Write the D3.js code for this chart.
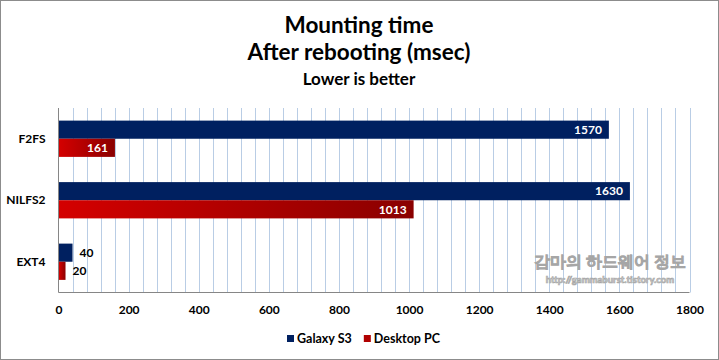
<!DOCTYPE html>
<html><head><meta charset="utf-8">
<script src="https://cdn.jsdelivr.net/npm/d3@7"></script>
<style>body{margin:0;background:#fff}svg{display:block}text{font-family:Lato,"Open Sans",sans-serif}</style>
</head><body><svg id="c" width="719" height="360"></svg>
<script>
const categories = ["F2FS", "NILFS2", "EXT4"];
const seriesNames = ["Galaxy S3", "Desktop PC"];
const galaxyS3 = [1570, 1630, 40];
const desktopPC = [161, 1013, 20];
const xTicks = [0, 200, 400, 600, 800, 1000, 1200, 1400, 1600, 1800];
const titleLines = ["Mounting time", "After rebooting (msec)"];
const subtitle = "Lower is better";

const svg = d3.select("#c");
const W = 719, H = 360;
const m = {l: 58.5, r: 29.5, t: 108, b: 67.5};
const pw = W - m.l - m.r, ph = H - m.t - m.b;

svg.append("rect").attr("x",0.5).attr("y",0.5).attr("width",W-1).attr("height",H-1)
  .attr("fill","#fff").attr("stroke","#8c8c8c").attr("stroke-width",1);

const defs = svg.append("defs");
const g1 = defs.append("linearGradient").attr("id","redg").attr("x1","0").attr("x2","1").attr("y1","0").attr("y2","0");
g1.append("stop").attr("offset","0%").attr("stop-color","#d40000");
g1.append("stop").attr("offset","100%").attr("stop-color","#8a0000");

const x = d3.scaleLinear().domain([0,1800]).range([m.l, m.l+pw]);
const y = d3.scaleBand().domain(categories).range([m.t, m.t+ph]).paddingInner(0.41).paddingOuter(0.205);
const ys = d3.scaleBand().domain(seriesNames).range([0, y.bandwidth()]);

// gridlines every 40
const grid = d3.range(40, 1801, 40);
svg.append("g").selectAll("line").data(grid).join("line")
  .attr("x1", d=>Math.round(x(d))+0.5).attr("x2", d=>Math.round(x(d))+0.5)
  .attr("y1", m.t).attr("y2", m.t+ph)
  .attr("stroke","#b9cde5").attr("stroke-width",1);

// watermark
const wm = svg.append("g").attr("fill","#e0e0e0").attr("stroke","#a6a6a6").attr("stroke-width",0.7);
wm.append("text").attr("x",610).attr("y",267).attr("text-anchor","middle")
  .attr("font-family","'Noto Sans CJK KR'").attr("font-size",15.5).attr("font-weight","bold").text("감마의 하드웨어 정보");
wm.append("text").attr("x",610).attr("y",283).attr("text-anchor","middle")
  .attr("font-family","'DejaVu Sans Mono'").attr("font-size",9.5).attr("font-weight","bold").text("http://gammaburst.tistory.com");

// axes
const xAxis = d3.axisBottom(x).tickValues(xTicks).tickSize(0).tickPadding(13).tickFormat(d3.format("d"));
const ax = svg.append("g").attr("transform",`translate(0,${m.t+ph})`).call(xAxis);
ax.select(".domain").remove();
ax.selectAll("text").attr("font-size",12).attr("font-weight","bold").attr("fill","#000").attr("font-family","Lato");
svg.append("line").attr("x1",m.l).attr("x2",m.l+pw).attr("y1",m.t+ph).attr("y2",m.t+ph).attr("stroke","#868686");
svg.append("line").attr("x1",m.l).attr("x2",m.l).attr("y1",m.t).attr("y2",m.t+ph).attr("stroke","#868686");

const yAxis = d3.axisLeft(y).tickSize(0).tickPadding(13);
const ay = svg.append("g").attr("transform",`translate(${m.l},0)`).call(yAxis);
ay.select(".domain").remove();
ay.selectAll("text").attr("font-size",12).attr("font-weight","bold").attr("fill","#000").attr("font-family","Lato");

const data = [];
categories.forEach((c,i)=>{
  data.push({cat:c, s:seriesNames[0], v:galaxyS3[i]});
  data.push({cat:c, s:seriesNames[1], v:desktopPC[i]});
});
const fill = s => s===seriesNames[0] ? "#002060" : "url(#redg)";

svg.append("g").selectAll("rect").data(data).join("rect")
  .attr("x", x(0)+0.5).attr("y", d=>y(d.cat)+ys(d.s))
  .attr("width", d=>x(d.v)-x(0)-0.5).attr("height", ys.bandwidth())
  .attr("fill", d=>fill(d.s));

svg.append("g").selectAll("text").data(data).join("text")
  .attr("x", d=> d.v > 100 ? x(d.v)-7 : x(d.v)+7)
  .attr("y", d=>y(d.cat)+ys(d.s)+ys.bandwidth()/2)
  .attr("dy","0.36em")
  .attr("text-anchor", d=> d.v > 100 ? "end" : "start")
  .attr("fill", d=> d.v > 100 ? "#fff" : "#000")
  .attr("font-size",12).attr("font-weight","bold").attr("font-family","Lato")
  .text(d=>d.v);

// titles
svg.append("text").attr("x",359).attr("y",33).attr("text-anchor","middle")
  .attr("font-size",22.5).attr("font-weight","bold").attr("font-family","Lato").text(titleLines[0]);
svg.append("text").attr("x",359).attr("y",60).attr("text-anchor","middle")
  .attr("font-size",22.5).attr("font-weight","bold").attr("font-family","Lato").text(titleLines[1]);
svg.append("text").attr("x",359).attr("y",85).attr("text-anchor","middle")
  .attr("font-size",17).attr("font-weight","bold").attr("font-family","Lato").text(subtitle);

// legend
const leg = svg.append("g");
const legColors = ["#002060", "#b00000"];
let lx = 287;
seriesNames.forEach((s,i)=>{
  leg.append("rect").attr("x",lx).attr("y",335).attr("width",7).attr("height",7).attr("fill",legColors[i]);
  const t = leg.append("text").attr("x",lx+10).attr("y",338.5).attr("dy","0.36em")
    .attr("font-size",12.5).attr("font-weight","bold").attr("font-family","Lato").text(s);
  lx += 10 + t.node().getComputedTextLength() + 12;
});
</script></body></html>
